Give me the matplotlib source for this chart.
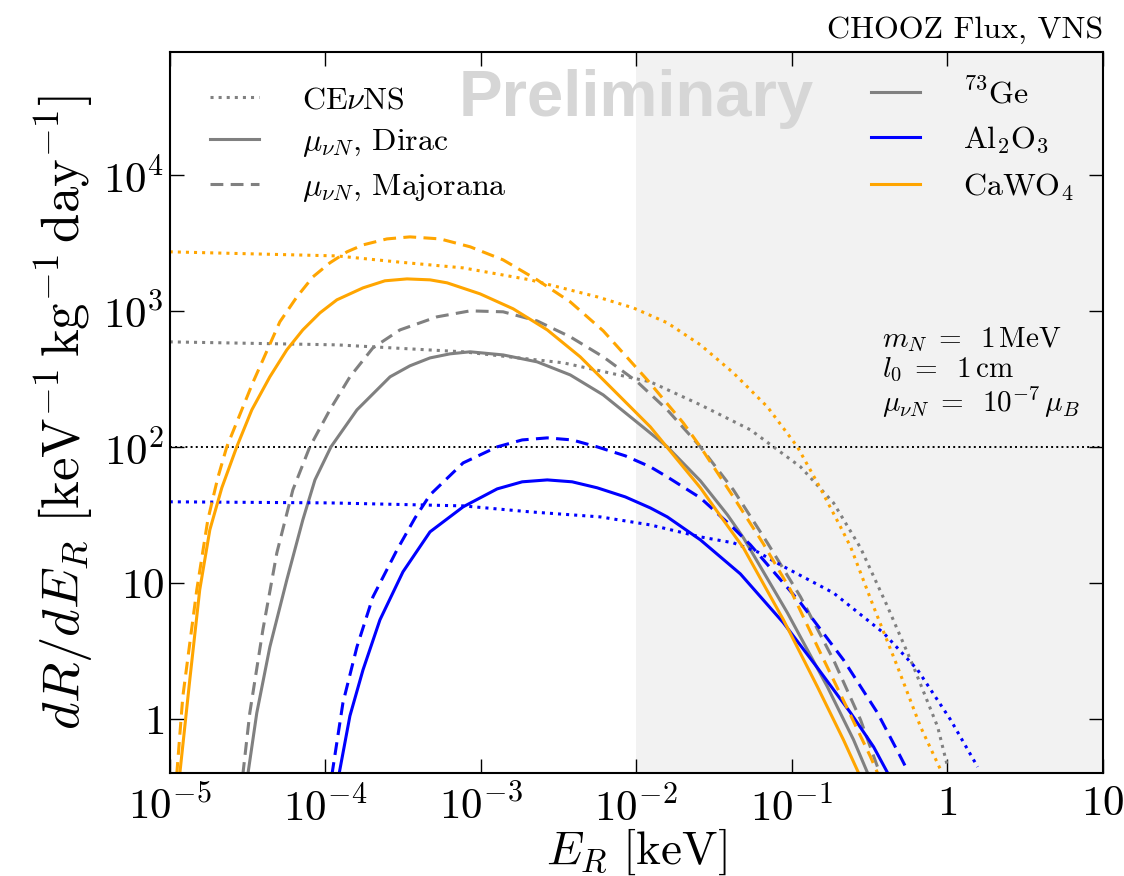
import numpy as np
import matplotlib
matplotlib.use("Agg")
import matplotlib.pyplot as plt

plt.rcParams['font.family'] = 'serif'
plt.rcParams['font.serif'] = ['cmr10']
plt.rcParams['mathtext.fontset'] = 'cm'
plt.rcParams['axes.unicode_minus'] = False

# values, stored as log10(E_R / keV) and log10(dR/dE_R)
# CEvNS
cawo4_cevns_logE = [-5.0, -3.925, -3.538, -3.113, -2.682, -2.251, -2.019, -1.8, -1.587, -1.375,
                    -1.156, -0.963, -0.834, -0.686, -0.621, -0.473, -0.319, -0.171, -0.042]
cawo4_cevns_logR = [3.434, 3.404, 3.36, 3.316, 3.228, 3.103, 3.022, 2.912, 2.75, 2.544,
                    2.294, 2.0, 1.735, 1.412, 1.265, 0.824, 0.382, -0.059, -0.375]
ge_cevns_logE = [-5.0, -3.925, -3.113, -2.469, -1.909, -1.587, -1.265, -1.117, -0.943, -0.731,
                 -0.557, -0.383, -0.216, -0.061, 0.003]
ge_cevns_logR = [2.772, 2.75, 2.699, 2.618, 2.478, 2.309, 2.125, 2.0, 1.853, 1.588,
                 1.257, 0.824, 0.382, -0.059, -0.353]
al2o3_cevns_logE = [-5.0, -3.97, -3.113, -2.682, -2.231, -1.909, -1.587, -1.375, -1.22, -1.072,
                    -0.731, -0.409, -0.19, 0.022, 0.196]
al2o3_cevns_logR = [1.596, 1.588, 1.566, 1.522, 1.485, 1.426, 1.338, 1.294, 1.228, 1.132,
                    0.926, 0.632, 0.36, -0.007, -0.353]

# Dirac
cawo4_dirac_logE = [-4.936, -4.871, -4.807, -4.742, -4.665, -4.569, -4.472, -4.356, -4.247, -4.144,
                    -4.034, -3.925, -3.757, -3.616, -3.474, -3.326, -3.216, -3.004, -2.791, -2.572,
                    -2.36, -2.147, -1.909, -1.587, -1.459, -1.31, -1.053, -0.834, -0.667, -0.57]
cawo4_dirac_logR = [-0.412, 0.287, 0.949, 1.39, 1.699, 2.0, 2.272, 2.515, 2.713, 2.86,
                    2.985, 3.081, 3.169, 3.221, 3.235, 3.228, 3.206, 3.125, 3.015, 2.86,
                    2.662, 2.419, 2.147, 1.699, 1.493, 1.257, 0.728, 0.235, -0.154, -0.397]
ge_dirac_logE = [-4.498, -4.44, -4.356, -4.247, -4.144, -4.066, -3.963, -3.796, -3.583, -3.455,
                 -3.326, -3.197, -3.068, -2.856, -2.637, -2.424, -2.212, -1.974, -1.8, -1.587,
                 -1.413, -1.31, -1.027, -0.77, -0.602, -0.512]
ge_dirac_logR = [-0.412, 0.044, 0.529, 1.022, 1.463, 1.757, 2.0, 2.272, 2.515, 2.596,
                 2.654, 2.684, 2.699, 2.676, 2.625, 2.529, 2.382, 2.162, 2.0, 1.75,
                 1.5, 1.331, 0.779, 0.235, -0.154, -0.397]
al2o3_dirac_logE = [-3.912, -3.841, -3.757, -3.648, -3.5, -3.326, -3.113, -2.894, -2.733, -2.572,
                    -2.412, -2.251, -2.07, -1.909, -1.8, -1.587, -1.33, -1.053, -0.834, -0.621,
                    -0.473, -0.383]
al2o3_dirac_logR = [-0.412, 0.022, 0.36, 0.728, 1.081, 1.375, 1.559, 1.691, 1.743, 1.757,
                    1.743, 1.699, 1.632, 1.551, 1.485, 1.316, 1.066, 0.706, 0.375, 0.044,
                    -0.206, -0.397]

# Majorana
cawo4_major_logE = [-4.955, -4.916, -4.826, -4.755, -4.691, -4.633, -4.466, -4.292, -4.182, -4.079,
                    -3.97, -3.86, -3.757, -3.603, -3.455, -3.261, -3.068, -2.856, -2.637, -2.424,
                    -2.212, -1.929, -1.697, -1.587, -1.375, -1.182, -1.008, -0.815, -0.641, -0.493,
                    -0.448]
cawo4_major_logR = [-0.412, 0.162, 0.949, 1.463, 1.772, 2.0, 2.471, 2.919, 3.103, 3.25,
                    3.353, 3.434, 3.485, 3.529, 3.544, 3.529, 3.471, 3.375, 3.228, 3.066,
                    2.853, 2.493, 2.176, 2.0, 1.632, 1.287, 0.949, 0.485, 0.074, -0.279,
                    -0.397]
ge_major_logE = [-4.53, -4.485, -4.401, -4.311, -4.208, -4.099, -3.97, -3.841, -3.693, -3.519,
                 -3.281, -3.068, -2.856, -2.637, -2.424, -2.212, -1.993, -1.8, -1.587, -1.375,
                 -1.156, -0.943, -0.731, -0.557, -0.448]
ge_major_logR = [-0.412, 0.044, 0.654, 1.221, 1.684, 2.0, 2.272, 2.515, 2.728, 2.86,
                 2.956, 3.0, 2.993, 2.926, 2.809, 2.662, 2.478, 2.272, 2.0, 1.684,
                 1.294, 0.897, 0.434, -0.007, -0.353]
al2o3_major_logE = [-3.957, -3.886, -3.796, -3.693, -3.538, -3.422, -3.326, -3.113, -2.894, -2.733,
                    -2.572, -2.412, -2.251, -2.07, -1.909, -1.8, -1.587, -1.375, -1.265, -0.943,
                    -0.667, -0.448, -0.3, -0.254]
al2o3_major_logR = [-0.412, 0.118, 0.529, 0.897, 1.243, 1.478, 1.647, 1.882, 2.0, 2.051,
                    2.066, 2.051, 2.0, 1.934, 1.853, 1.779, 1.625, 1.404, 1.279, 0.853,
                    0.434, 0.044, -0.279, -0.382]

xticks = [1e-5, 1e-4, 1e-3, 1e-2, 1e-1, 1, 10]
xticklabels = [r"$10^{-5}$", r"$10^{-4}$", r"$10^{-3}$", r"$10^{-2}$", r"$10^{-1}$", r"$1$", r"$10$"]
yticks = [1, 10, 100, 1e3, 1e4]
yticklabels = [r"$1$", r"$10$", r"$10^{2}$", r"$10^{3}$", r"$10^{4}$"]

fig = plt.figure(figsize=(11.24, 8.76), dpi=100)
ax = fig.add_axes([0.151, 0.1176, 0.830, 0.823])

ax.axvspan(1e-2, 10, color='#f2f2f2', lw=0, zorder=0)
ax.axhline(100, color='black', ls=':', lw=1.4, zorder=1)

lw = 2.2
dash = (4.2, 2.4)
series = [
  ('gray', ge_cevns_logE, ge_cevns_logR, ge_dirac_logE, ge_dirac_logR, ge_major_logE, ge_major_logR),
  ('blue', al2o3_cevns_logE, al2o3_cevns_logR, al2o3_dirac_logE, al2o3_dirac_logR, al2o3_major_logE, al2o3_major_logR),
  ('orange', cawo4_cevns_logE, cawo4_cevns_logR, cawo4_dirac_logE, cawo4_dirac_logR, cawo4_major_logE, cawo4_major_logR),
]
for c, ce, cr, de, dr, me, mr in series:
  ax.plot(10**np.array(ce), 10**np.array(cr), color=c, ls=':', lw=lw, zorder=2)
  ax.plot(10**np.array(de), 10**np.array(dr), color=c, ls='-', lw=lw, zorder=2)
  ax.plot(10**np.array(me), 10**np.array(mr), color=c, ls='--', dashes=dash, lw=lw, zorder=2)

ax.set_xscale('log')
ax.set_yscale('log')
ax.set_xlim(1e-5, 10)
ax.set_ylim(0.4, 8e4)
ax.set_xticks(xticks)
ax.set_xticklabels(xticklabels)
ax.set_yticks(yticks)
ax.set_yticklabels(yticklabels)
ax.minorticks_off()
ax.tick_params(which='major', direction='in', length=10, width=1, top=True, right=True,
               labelsize=31)
ax.tick_params(axis='y', pad=4)
ax.tick_params(axis='x', pad=9)
for s in ax.spines.values():
  s.set_linewidth(1.5)

ax.set_xlabel(r"$E_R\ [\mathrm{keV}]$", fontsize=34, labelpad=-1)
ax.set_ylabel(r"$dR/dE_R\ [\mathrm{keV}^{-1}\,\mathrm{kg}^{-1}\,\mathrm{day}^{-1}]$", fontsize=38, labelpad=6)

ax.text(0.5, 0.935, "Preliminary", transform=ax.transAxes, ha='center', va='center',
        fontsize=47, fontweight='bold', family='Liberation Sans', color='#d6d6d6', zorder=1)

fig.text(0.981, 0.965, "CHOOZ Flux, VNS", ha='right', va='center', fontsize=23)

ax.text(0.764, 0.555, r"$m_N\;=\;\;1\,\mathrm{MeV}$" + "\n" + r"$l_0\;=\;\;1\,\mathrm{cm}$" + "\n"
        + r"$\mu_{\nu N}\;=\;\;10^{-7}\,\mu_B$", transform=ax.transAxes, ha='left', va='center',
        fontsize=21, linespacing=1.05)

h1 = [plt.Line2D([], [], color='gray', ls=':', lw=lw),
      plt.Line2D([], [], color='gray', ls='-', lw=lw),
      plt.Line2D([], [], color='gray', ls='--', dashes=dash, lw=lw)]
leg1 = ax.legend(h1, [r"CE$\nu$NS", r"$\mu_{\nu N}$, Dirac", r"$\mu_{\nu N}$, Majorana"],
                 loc='upper left', bbox_to_anchor=(0.0, 1.008), frameon=False, fontsize=23,
                 handlelength=1.55, borderaxespad=0.85, labelspacing=0.4, handletextpad=1.35)
ax.add_artist(leg1)
h2 = [plt.Line2D([], [], color=c, ls='-', lw=lw) for c in ['gray', 'blue', 'orange']]
ax.legend(h2, [r"$^{73}$Ge", r"Al$_2$O$_3$", r"CaWO$_4$"], loc='upper right',
          bbox_to_anchor=(1.0, 1.005), frameon=False, fontsize=23, handlelength=1.55,
          borderaxespad=0.5, labelspacing=0.5, handletextpad=1.35)

plt.savefig("out.png", dpi=100)
